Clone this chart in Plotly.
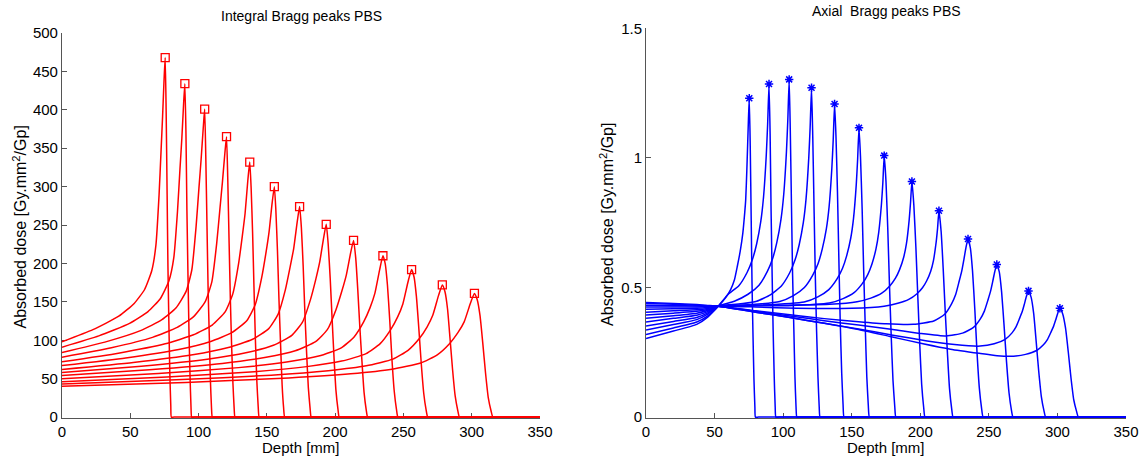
import plotly.graph_objects as go

# ---------------- Integral Bragg peaks (left panel) ----------------
INT_DEPTH = [
    [0, 22.7, 41.6, 52.9, 60.5, 65.8, 68.8, 71.1, 72.6, 73.7, 74.8, 75.6, 76.3, 77.0, 77.6, 78.3, 79.0, 79.7, 80.1, 82, 350],
    [0, 27, 49.5, 63, 72, 78.3, 81.9, 84.6, 86.4, 87.8, 89.1, 90, 90.8, 91.5, 92.3, 93, 93.8, 94.5, 95, 97, 350],
    [0, 31.4, 57.5, 73.2, 83.6, 90.9, 95.1, 98.2, 100.3, 101.9, 103.5, 104.5, 105.3, 106.2, 107.0, 107.9, 108.7, 109.5, 110.1, 112, 350],
    [0, 36.2, 66.3, 84.4, 96.4, 104.8, 109.7, 113.3, 115.7, 117.5, 119.3, 120.5, 121.4, 122.4, 123.3, 124.2, 125.2, 126.1, 126.7, 129, 350],
    [0, 41.3, 75.6, 96.3, 110, 119.6, 125.1, 129.3, 132, 134.1, 136.1, 137.5, 138.5, 139.6, 140.6, 141.6, 142.7, 143.7, 144.4, 147, 350],
    [0, 46.7, 85.5, 108.9, 124.4, 135.3, 141.5, 146.2, 149.3, 151.6, 153.9, 155.5, 156.6, 157.8, 158.9, 160.1, 161.2, 162.3, 163.1, 166, 350],
    [0, 52.2, 95.7, 121.8, 139.2, 151.4, 158.3, 163.6, 167, 169.7, 172.3, 174, 175.3, 176.6, 177.8, 179.1, 180.4, 181.7, 182.5, 185, 350],
    [0, 58.1, 106.4, 135.5, 154.8, 168.3, 176.1, 181.9, 185.8, 188.7, 191.6, 193.5, 194.9, 196.4, 197.8, 199.2, 200.6, 202.1, 203, 206, 350],
    [0, 64.1, 117.4, 149.5, 170.8, 185.7, 194.3, 200.7, 205, 208.2, 211.4, 213.5, 215.1, 216.6, 218.1, 219.7, 221.2, 222.8, 223.8, 227, 350],
    [0, 70.5, 129.3, 164.5, 188, 204.5, 213.9, 220.9, 225.6, 229.1, 232.7, 235, 236.7, 238.3, 240, 241.6, 243.3, 244.9, 246, 249, 350],
    [0, 76.8, 140.8, 179.2, 204.8, 222.7, 233, 240.6, 245.8, 249.6, 253.4, 256, 257.8, 259.5, 261.3, 263.1, 264.9, 266.6, 267.8, 271, 350],
    [0, 83.6, 153.2, 195, 222.8, 242.3, 253.4, 261.8, 267.4, 271.5, 275.7, 278.5, 280.4, 282.3, 284.1, 286, 287.9, 289.8, 291, 294, 350],
    [0, 90.6, 166.1, 211.4, 241.6, 262.7, 274.8, 283.9, 289.9, 294.5, 299, 302, 304, 306.1, 308.1, 310.1, 312.1, 314.2, 315.5, 319, 350],
]
INT_DOSE = [
    [98, 113.9, 131.3, 148, 166.1, 190.9, 223.8, 288.9, 347.8, 391.8, 440.6, 468, 397.8, 290.2, 196.6, 121.7, 56.2, 14, 0, 0, 0],
    [91, 105.7, 121.9, 137.3, 154.1, 177.1, 207.6, 268, 322.5, 363.3, 408.6, 434, 368.9, 269.1, 182.3, 112.8, 52.1, 13, 0, 0, 0],
    [84, 97.6, 112.5, 126.8, 142.3, 163.6, 191.8, 247.6, 298, 335.7, 377.5, 401, 340.9, 248.6, 168.4, 104.3, 48.1, 12, 0, 0, 0],
    [78, 90.3, 103.8, 116.7, 130.8, 150, 175.6, 226.1, 271.7, 305.9, 343.8, 365, 310.3, 226.3, 153.3, 94.9, 43.8, 11, 0, 0, 0],
    [72, 83.2, 95.4, 107.1, 119.8, 137.3, 160.4, 199.4, 235, 265.4, 308.3, 332, 298.8, 239, 169.3, 102.9, 46.5, 13.3, 0, 0, 0],
    [67, 77, 88, 98.5, 109.9, 125.5, 146.2, 181.2, 213.1, 240.4, 278.8, 300, 270, 216, 153, 93, 42, 12, 0, 0, 0],
    [62, 71.1, 81.1, 90.6, 101, 115.2, 134.1, 165.9, 194.9, 219.7, 254.7, 274, 246.6, 197.3, 139.7, 84.9, 38.4, 11, 0, 0, 0],
    [58, 66.3, 75.4, 84.1, 93.5, 106.4, 123.6, 152.6, 179, 201.6, 233.4, 251, 225.9, 180.7, 128, 77.8, 35.1, 10, 0, 0, 0],
    [54, 61.6, 69.8, 77.8, 86.4, 98.2, 113.8, 140.2, 164.4, 184.9, 214, 230, 207, 165.6, 117.3, 71.3, 32.2, 9.2, 0, 0, 0],
    [50, 56.9, 64.4, 71.6, 79.4, 90.2, 104.4, 123.9, 142.5, 161, 192.7, 210, 199.5, 172.2, 126, 75.6, 33.6, 10.5, 0, 0, 0],
    [46, 52.3, 59.1, 65.7, 72.9, 82.6, 95.6, 113.5, 130.4, 147.3, 176.2, 192, 182.4, 157.4, 115.2, 69.1, 30.7, 9.6, 0, 0, 0],
    [43, 48.5, 54.6, 60.4, 66.7, 75.4, 86.9, 102.6, 117.6, 132.5, 158.1, 172, 163.4, 141, 103.2, 61.9, 27.5, 8.6, 0, 0, 0],
    [40, 45.2, 50.9, 56.3, 62.3, 70.4, 81.1, 95.9, 109.9, 124, 147.9, 161, 153, 132, 96.6, 58, 25.8, 8, 0, 0, 0],
]
INT_PEAK_DEPTH = [75.6, 90, 104.5, 120.5, 137.5, 155.5, 174, 193.5, 213.5, 235, 256, 278.5, 302]
INT_PEAK_DOSE = [468, 434, 401, 365, 332, 300, 274, 251, 230, 210, 192, 172, 161]

# ---------------- Axial Bragg peaks (right panel) ----------------
AX_DEPTH = [
    [0, 20, 37, 45, 52.7, 58, 61.7, 64.5, 66.6, 68.7, 70.6, 72, 72.7, 73.5, 74, 74.7, 75.3, 76.0, 76.7, 77.3, 78.0, 78.7, 79.4, 79.8, 82, 350],
    [0, 20, 37, 45, 52.7, 59.7, 67.7, 73.7, 77.7, 80.7, 83.7, 85.7, 87.7, 88.7, 89.7, 90.5, 91.2, 92.0, 92.7, 93.5, 94.2, 94.7, 97, 350],
    [0, 20, 37, 45, 52.7, 64.4, 74.4, 82.4, 88.4, 92.4, 95.4, 98.4, 100.4, 102.4, 103.4, 104.4, 105.2, 106.1, 106.9, 107.8, 108.6, 109.4, 110.0, 112, 350],
    [0, 20, 37, 45, 52.7, 70.7, 80.7, 90.7, 98.7, 104.7, 108.7, 111.7, 114.7, 116.7, 118.7, 119.7, 120.7, 121.6, 122.6, 123.5, 124.4, 125.4, 126.3, 126.9, 129, 350],
    [0, 20, 37, 45, 52.7, 77.5, 97.5, 107.5, 115.5, 121.5, 125.5, 128.5, 131.5, 133.5, 135.5, 136.5, 137.5, 138.5, 139.6, 140.6, 141.6, 142.7, 143.7, 144.4, 147, 350],
    [0, 20, 37, 45, 52.7, 75.3, 115.3, 125.3, 133.3, 139.3, 143.3, 146.3, 149.3, 151.3, 153.3, 154.3, 155.3, 156.4, 157.6, 158.7, 159.9, 161.0, 162.1, 162.9, 166, 350],
    [0, 20, 37, 45, 52.7, 103.7, 133.7, 143.7, 151.7, 157.7, 161.7, 164.7, 167.7, 169.7, 171.7, 172.7, 173.7, 175.0, 176.3, 177.5, 178.8, 180.1, 181.4, 182.2, 185, 350],
    [0, 20, 37, 45, 52.7, 103.9, 133.9, 153.9, 163.9, 171.9, 177.9, 181.9, 184.9, 187.9, 189.9, 191.9, 192.9, 193.9, 195.3, 196.8, 198.2, 199.6, 201.0, 202.5, 203.4, 206, 350],
    [0, 20, 37, 45, 52.7, 80, 110, 150, 173.6, 183.6, 191.6, 197.6, 201.6, 204.6, 207.6, 209.6, 211.6, 212.6, 213.6, 215.2, 216.7, 218.2, 219.8, 221.3, 222.9, 223.9, 227, 350],
    [0, 20, 37, 45, 52.7, 80, 105, 130, 155, 175, 195, 209.8, 217.8, 222.8, 225.8, 228.3, 230.3, 231.8, 233.3, 234.8, 236.5, 238.1, 239.8, 241.4, 243.1, 244.7, 245.8, 249, 350],
    [0, 20, 37, 45, 52.7, 80, 105, 130, 155, 180, 200, 219, 230.8, 238.8, 243.8, 246.8, 249.3, 251.3, 252.8, 254.3, 255.8, 257.6, 259.3, 261.1, 262.9, 264.7, 266.4, 267.6, 271, 350],
    [0, 20, 37, 45, 52.7, 80, 105, 130, 155, 180, 205, 225, 243.6, 253.9, 261.9, 266.9, 269.9, 272.4, 274.4, 275.9, 277.4, 278.9, 280.8, 282.7, 284.5, 286.4, 288.3, 290.2, 291.4, 294, 350],
    [0, 20, 37, 45, 52.7, 80, 105, 130, 154, 178, 202, 222, 243, 256, 268, 276.8, 284.8, 289.8, 292.8, 295.3, 297.3, 298.8, 300.3, 301.8, 303.8, 305.9, 307.9, 309.9, 311.9, 314.0, 315.3, 319, 350],
]
AX_DOSE = [
    [.303, .332, .358, .386, .428, .46, .492, .53, .582, .64, .71, .79, .839, .95, 1.031, 1.15, 1.23, 1.046, .763, .517, .32, .148, .037, 0, 0, 0],
    [.319, .344, .367, .391, .428, .473, .507, .558, .61, .669, .755, .849, 1.011, 1.131, 1.285, 1.092, .797, .54, .334, .154, .039, 0, 0, 0],
    [.336, .357, .376, .397, .428, .447, .474, .509, .561, .613, .674, .762, .858, 1.024, 1.146, 1.303, 1.108, .808, .547, .339, .156, .039, 0, 0, 0],
    [.351, .369, .384, .402, .428, .438, .447, .472, .506, .556, .607, .665, .75, .842, 1.002, 1.12, 1.271, 1.08, .788, .534, .33, .153, .038, 0, 0, 0],
    [.367, .381, .393, .407, .428, .434, .446, .469, .5, .547, .593, .648, .726, .811, .959, 1.068, 1.208, 1.087, .87, .616, .374, .169, .048, 0, 0, 0],
    [.381, .391, .401, .411, .428, .43, .444, .464, .492, .533, .574, .622, .691, .766, .896, .993, 1.116, 1.004, .804, .569, .346, .156, .045, 0, 0, 0],
    [.394, .401, .408, .415, .428, .43, .44, .457, .48, .515, .55, .59, .649, .713, .823, .904, 1.009, .908, .726, .515, .313, .141, .04, 0, 0, 0],
    [.405, .410, .414, .419, .428, .432, .435, .445, .459, .478, .507, .536, .569, .617, .669, .761, .829, .909, .818, .654, .464, .282, .127, .036, 0, 0, 0],
    [.416, .418, .420, .423, .428, .425, .42, .42, .428, .439, .454, .476, .499, .525, .563, .604, .676, .728, .796, .716, .573, .406, .247, .111, .032, 0, 0, 0],
    [.425, .425, .425, .426, .428, .41, .395, .38, .368, .36, .358, .371, .397, .437, .473, .523, .565, .608, .654, .687, .653, .563, .412, .247, .11, .034, 0, 0, 0],
    [.432, .430, .429, .428, .428, .408, .39, .372, .355, .338, .323, .313, .324, .346, .379, .41, .451, .487, .523, .561, .589, .56, .483, .353, .212, .094, .029, 0, 0, 0],
    [.438, .435, .432, .430, .428, .405, .384, .362, .34, .316, .294, .28, .274, .283, .30, .325, .349, .381, .408, .436, .466, .487, .463, .399, .292, .175, .078, .024, 0, 0, 0],
    [.442, .438, .434, .431, .428, .405, .384, .362, .339, .311, .283, .262, .246, .237, .235, .242, .257, .279, .30, .328, .352, .376, .402, .42, .399, .344, .252, .151, .067, .021, 0, 0, 0],
]
AX_PEAK_DEPTH = [75.3, 89.7, 104.4, 120.7, 137.5, 155.3, 173.7, 193.9, 213.6, 234.8, 255.8, 278.9, 301.8]
AX_PEAK_DOSE = [1.23, 1.285, 1.303, 1.271, 1.208, 1.116, 1.009, .909, .796, .687, .589, .487, .42]

RED = "#ff0000"
BLUE = "#0000ff"
FONT = "Liberation Sans, Arial, sans-serif"

fig = go.Figure()

for d, v in zip(INT_DEPTH, INT_DOSE):
    fig.add_trace(go.Scatter(x=d, y=v, mode="lines", xaxis="x", yaxis="y",
                             line=dict(color=RED, width=1.5, shape="spline", smoothing=0.5),
                             showlegend=False, hoverinfo="skip"))
fig.add_trace(go.Scatter(x=INT_PEAK_DEPTH, y=INT_PEAK_DOSE, mode="markers", xaxis="x", yaxis="y",
                         marker=dict(symbol="square-open", size=8, color=RED, line=dict(width=1.3, color=RED)),
                         showlegend=False, cliponaxis=False, hoverinfo="skip"))

for d, v in zip(AX_DEPTH, AX_DOSE):
    fig.add_trace(go.Scatter(x=d, y=v, mode="lines", xaxis="x2", yaxis="y2",
                             line=dict(color=BLUE, width=1.5, shape="spline", smoothing=0.5),
                             showlegend=False, hoverinfo="skip"))
fig.add_trace(go.Scatter(x=AX_PEAK_DEPTH, y=AX_PEAK_DOSE, mode="markers", xaxis="x2", yaxis="y2",
                         marker=dict(symbol="asterisk-open", size=7, color=BLUE, line=dict(width=1.5, color=BLUE)),
                         showlegend=False, cliponaxis=False, hoverinfo="skip"))

axis_common = dict(showgrid=False, zeroline=False, showline=True, linecolor="#555555", linewidth=1,
                   ticks="inside", ticklen=5, tickwidth=1, tickcolor="#555555", mirror=False,
                   automargin=False, layer="below traces",
                   tickfont=dict(family=FONT, size=15, color="#000000"))

fig.update_layout(
    width=1145, height=462, autosize=False,
    margin=dict(l=0, r=0, t=0, b=0, pad=0),
    paper_bgcolor="white", plot_bgcolor="white",
    xaxis=dict(domain=[0.0541, 0.4716], range=[0, 350], tick0=0, dtick=50, anchor="y", **axis_common),
    yaxis=dict(domain=[0.0952, 0.9286], range=[-1.2, 500], tick0=0, dtick=50, anchor="x", **axis_common),
    xaxis2=dict(domain=[0.5642, 0.9834], range=[0, 350], tick0=0, dtick=50, anchor="y2", **axis_common),
    yaxis2=dict(domain=[0.0952, 0.9387], range=[-0.0035, 1.5], tick0=0, dtick=0.5, anchor="x2", **axis_common),
)

ann = [
    dict(text="Integral Bragg peaks PBS", x=0.2637, y=0.965, size=14, angle=0),
    dict(text="Axial\u00a0 Bragg peaks PBS", x=0.7738, y=0.976, size=14, angle=0),
    dict(text="Depth [mm]", x=0.2629, y=0.031, size=15, angle=0),
    dict(text="Depth [mm]", x=0.7738, y=0.031, size=15, angle=0),
    dict(text="Absorbed dose [Gy.mm<sup>2</sup>/Gp]", x=0.0175, y=0.5076, size=16, angle=-90),
    dict(text="Absorbed dose [Gy.mm<sup>2</sup>/Gp]", x=0.530, y=0.515, size=16, angle=-90),
]
for a in ann:
    fig.add_annotation(text=a["text"], x=a["x"], y=a["y"], xref="paper", yref="paper",
                       xanchor="center", yanchor="middle", showarrow=False, textangle=a["angle"],
                       font=dict(family=FONT, size=a["size"], color="#000000"))

fig.write_html(
    "out.html",
    config={"displayModeBar": False, "staticPlot": True},
    post_script="document.body.style.margin='0px';document.body.style.padding='0px';"
                "document.body.style.overflow='hidden';",
)
